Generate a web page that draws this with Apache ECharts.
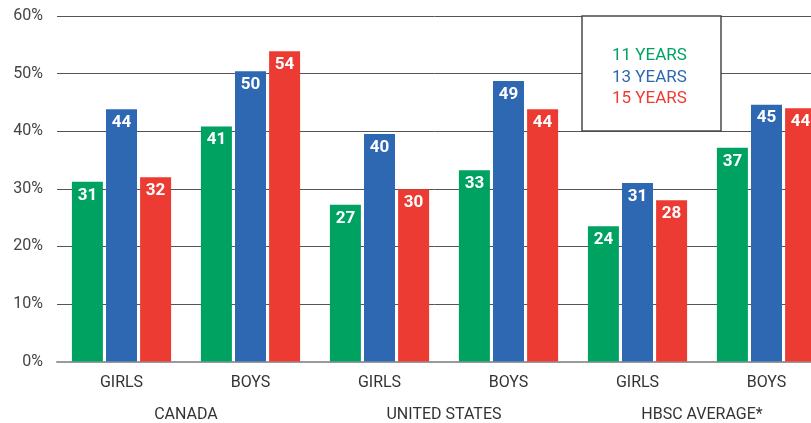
<!DOCTYPE html>
<html>
<head>
<meta charset="utf-8">
<script src="https://cdn.jsdelivr.net/npm/echarts@6/dist/echarts.min.js"></script>
<style>
html,body{margin:0;padding:0;background:#fff;}
#chart{width:811px;height:423px;}
</style>
</head>
<body>
<div id="chart"></div>
<script>
var subCategories = ['GIRLS', 'BOYS', 'GIRLS', 'BOYS', 'GIRLS', 'BOYS'];
var groups = ['CANADA', 'UNITED STATES', 'HBSC AVERAGE*'];
var seriesNames = ['11 YEARS', '13 YEARS', '15 YEARS'];
var age11 = [31.2, 40.8, 27.2, 33.2, 23.5, 37.1];
var age13 = [43.8, 50.4, 39.5, 48.7, 31.0, 44.6];
var age15 = [32.0, 53.9, 29.9, 43.8, 28.0, 44.0];
var yTicks = [0, 10, 20, 30, 40, 50, 60];
var colors = ['#00a262', '#2f68b2', '#ec3b33'];

var chart = echarts.init(document.getElementById('chart'), null, {renderer: 'canvas'});
var font = 'Roboto, "Liberation Sans", sans-serif';

function mkSeries(name, data, color) {
  return {
    name: name,
    type: 'bar',
    xAxisIndex: 0,
    data: data,
    barWidth: 31,
    barGap: '10%',
    itemStyle: {color: color},
    label: {
      show: true,
      position: 'insideTop',
      distance: 5,
      color: '#fff',
      fontWeight: 'bold',
      fontSize: 17,
      fontFamily: font,
      formatter: function (p) { return Math.round(p.value); }
    }
  };
}

chart.setOption({
  animation: false,
  textStyle: {fontFamily: font},
  grid: {left: 57, top: 16, right: -20, bottom: 61.5, containLabel: false, outerBoundsMode: 'none'},
  legend: {
    show: true,
    orient: 'vertical',
    left: 607,
    top: 47.5,
    padding: 0,
    icon: 'none',
    itemWidth: 0,
    itemHeight: 17,
    itemGap: 4.6,
    z: 20,
    selectedMode: false,
    data: seriesNames.map(function (n, i) {
      return {name: n, textStyle: {color: colors[i]}};
    }),
    textStyle: {fontSize: 17, fontFamily: font, lineHeight: 17}
  },
  graphic: [{
    type: 'rect',
    z: 10,
    shape: {x: 582, y: 16, width: 139, height: 115},
    style: {fill: '#fff', stroke: '#4a4a4a', lineWidth: 1.5}
  }],
  xAxis: [{
    type: 'category',
    data: subCategories,
    position: 'bottom',
    axisLine: {show: true, lineStyle: {color: '#9a9a9a', width: 2}},
    axisTick: {show: false},
    axisLabel: {color: '#333', fontSize: 16, margin: 13, fontFamily: font}
  }, {
    type: 'category',
    data: groups,
    position: 'bottom',
    offset: 32,
    axisLine: {show: false},
    axisTick: {show: false},
    axisLabel: {color: '#333', fontSize: 16, margin: 13, fontFamily: font}
  }],
  yAxis: {
    type: 'value',
    min: yTicks[0],
    max: yTicks[yTicks.length - 1],
    interval: 10,
    axisLine: {show: false},
    axisTick: {show: false},
    axisLabel: {color: '#444', fontSize: 16, margin: 14, fontFamily: font,
      formatter: function (v) { return v + '%'; }},
    splitLine: {show: true, showMinLine: false, lineStyle: {color: '#555', width: 1}}
  },
  series: [
    mkSeries(seriesNames[0], age11, colors[0]),
    mkSeries(seriesNames[1], age13, colors[1]),
    mkSeries(seriesNames[2], age15, colors[2])
  ]
});
</script>
</body>
</html>
